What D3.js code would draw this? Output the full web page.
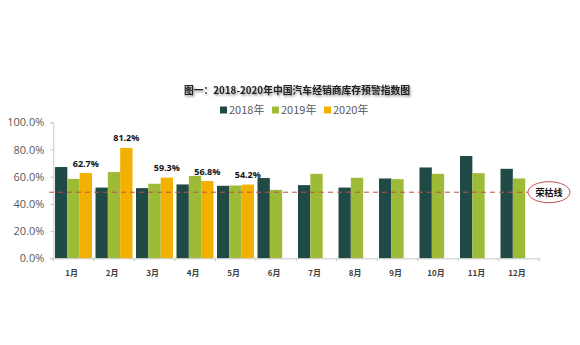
<!DOCTYPE html>
<html><head><meta charset="utf-8">
<script src="https://cdn.jsdelivr.net/npm/d3@7"></script>
<style>html,body{margin:0;padding:0;background:#fff;}</style>
</head><body>
<svg id="c" width="580" height="345"></svg>
<script>
const months = ["1月","2月","3月","4月","5月","6月","7月","8月","9月","10月","11月","12月"];
const seriesNames = ["2018年","2019年","2020年"];
const v2018 = [67.1,52.0,51.6,54.3,53.3,59.0,53.8,52.0,58.7,66.8,75.2,65.8];
const v2019 = [58.4,63.4,54.8,60.6,53.5,50.3,62.1,59.2,58.2,62.1,62.6,58.7];
const v2020 = [62.7,81.2,59.3,56.8,54.2];
const yTicks = [0,20,40,60,80,100];
const threshold = 48.6;
const thresholdLabel = "荣枯线";
const title = "图一：2018-2020年中国汽车经销商库存预警指数图";
const colors = ["#1f4a45","#9dbb37","#f2b100"];

const svg = d3.select("#c");
const defs = svg.append("defs");
const f = defs.append("filter").attr("id","sh").attr("x","-10%").attr("y","-50%").attr("width","120%").attr("height","200%");
f.append("feDropShadow").attr("dx",1).attr("dy",1.5).attr("stdDeviation",1.2).attr("flood-color","#000").attr("flood-opacity",0.45);

const x0 = 53.3, x1 = 539.3, yTop = 122.3, yBot = 258.3;
const x = d3.scaleBand().domain(months).range([x0,x1]).paddingInner(0).paddingOuter(0);
const xs = d3.scaleBand().domain([0,1,2]).range([1.7, x.bandwidth()-1.8]).padding(0);
const y = d3.scaleLinear().domain([0,100]).range([yBot,yTop]);

// title
svg.append("text").attr("x",297).attr("y",94).attr("text-anchor","middle")
  .attr("font-family","'Noto Sans CJK SC', sans-serif").attr("font-weight","bold").attr("font-size",9.8)
  .attr("fill","#222").attr("filter","url(#sh)").text(title);

// legend
const legX = [220,272,324];
seriesNames.forEach((n,i)=>{
  svg.append("rect").attr("x",legX[i]).attr("y",106.5).attr("width",7).attr("height",7).attr("fill",colors[i]);
  svg.append("text").attr("x",legX[i]+9).attr("y",114).attr("font-family","'Noto Sans CJK SC', sans-serif")
    .attr("font-size",11).attr("fill","#595959").text(n);
});

// y axis
const ya = svg.append("g").attr("transform",`translate(${x0},0)`)
  .call(d3.axisLeft(y).tickValues(yTicks).tickSize(3).tickFormat(d=>d.toFixed(1)+"%"));
ya.select(".domain").attr("stroke","#c8c8c8");
ya.selectAll(".tick line").attr("stroke","#c8c8c8");
ya.selectAll(".tick text").attr("x",-9).attr("font-family","'Open Sans', 'Liberation Sans', sans-serif").attr("font-size",11).attr("fill","#595959");

// bars
const data = [v2018,v2019,v2020];
data.forEach((arr,si)=>{
  svg.append("g").selectAll("rect").data(arr).join("rect")
    .attr("x",(d,i)=>x(months[i])+xs(si))
    .attr("width",xs.bandwidth())
    .attr("y",d=>y(d))
    .attr("height",d=>yBot-y(d))
    .attr("fill",colors[si]);
});

// x axis
const xa = svg.append("g").attr("transform",`translate(0,${yBot})`)
  .call(d3.axisBottom(x).tickSize(0).tickFormat(()=>""));
xa.select(".domain").attr("stroke","#c8c8c8");
svg.append("g").selectAll("line").data(d3.range(months.length+1)).join("line")
  .attr("x1",i=>x0+i*x.step()).attr("x2",i=>x0+i*x.step())
  .attr("y1",yBot).attr("y2",yBot+3).attr("stroke","#c8c8c8");
svg.append("g").selectAll("text").data(months).join("text")
  .attr("x",d=>x(d)+x.bandwidth()/2-2).attr("y",275.5).attr("text-anchor","middle")
  .attr("font-family","'Noto Sans CJK SC', sans-serif").attr("font-size",8).attr("font-weight","bold").attr("fill","#404040")
  .text(d=>d);

// threshold
svg.append("line").attr("x1",49).attr("x2",528).attr("y1",y(threshold)).attr("y2",y(threshold))
  .attr("stroke","#c0504d").attr("stroke-width",1).attr("stroke-dasharray","5,4");
svg.append("ellipse").attr("cx",549).attr("cy",y(threshold)).attr("rx",21).attr("ry",10.5)
  .attr("fill","#fff").attr("stroke","#c0504d").attr("stroke-width",1);
svg.append("text").attr("x",549).attr("y",y(threshold)+3.3).attr("text-anchor","middle")
  .attr("font-family","'Noto Sans CJK SC', sans-serif").attr("font-size",9).attr("font-weight","bold").attr("fill","#111")
  .text(thresholdLabel);

// data labels for 2020
svg.append("g").selectAll("text").data(v2020).join("text")
  .attr("x",(d,i)=>x(months[i])+xs(2)+xs.bandwidth()/2).attr("y",d=>y(d)-6.5)
  .attr("text-anchor","middle").attr("font-family","'Open Sans', sans-serif").attr("font-weight","bold")
  .attr("font-size",9).attr("fill","#111").text(d=>d.toFixed(1)+"%");
</script>
</body></html>
